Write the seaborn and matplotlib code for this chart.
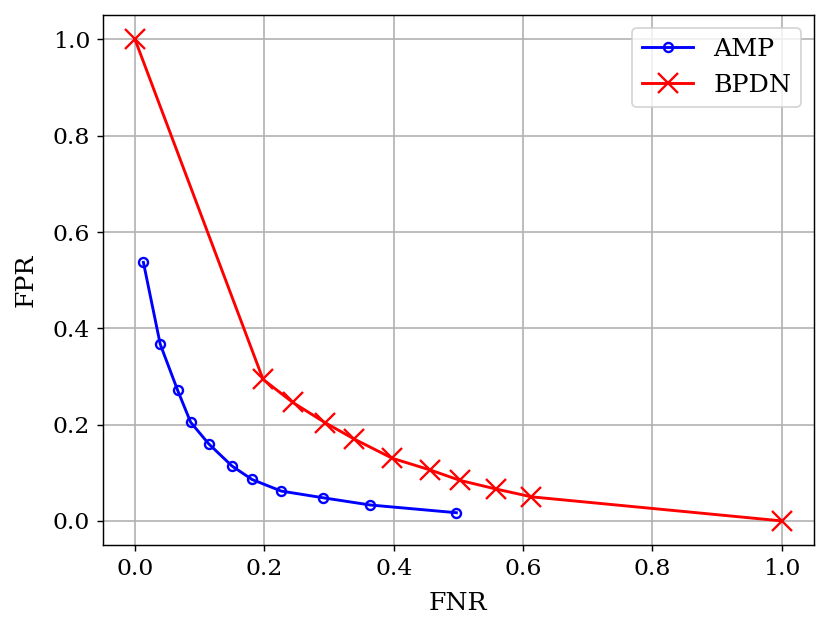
import matplotlib
matplotlib.use("Agg")
import matplotlib.pyplot as plt
import seaborn as sns

# AMP curve (FNR, FPR)
amp_fnr = [0.013, 0.039, 0.066, 0.086, 0.114, 0.150, 0.181, 0.226, 0.291, 0.364, 0.497]
amp_fpr = [0.537, 0.367, 0.271, 0.205, 0.160, 0.114, 0.086, 0.062, 0.048, 0.033, 0.017]

# BPDN curve (FNR, FPR)
bpdn_fnr = [0.0, 0.198, 0.244, 0.294, 0.339, 0.398, 0.456, 0.503, 0.559, 0.613, 1.0]
bpdn_fpr = [1.0, 0.294, 0.246, 0.204, 0.170, 0.130, 0.106, 0.084, 0.066, 0.050, 0.0]

plt.rcParams['font.family'] = ['DejaVu Serif']

fig = plt.figure(figsize=(830 / 130, 632 / 130), dpi=130)
ax = fig.add_axes([0.1237, 0.1377, 0.857, 0.838])

sns.lineplot(x=amp_fnr, y=amp_fpr, ax=ax, sort=False, color='blue', lw=1.6,
             marker='o', markersize=5, markerfacecolor='none',
             markeredgecolor='blue', markeredgewidth=1.3, label='AMP')
sns.lineplot(x=bpdn_fnr, y=bpdn_fpr, ax=ax, sort=False, color='red', lw=1.6,
             marker='x', markersize=11, markeredgecolor='red',
             markeredgewidth=1.3, label='BPDN')

ax.set_xlim(-0.05, 1.05)
ax.set_ylim(-0.05, 1.05)
ax.set_xticks([0.0, 0.2, 0.4, 0.6, 0.8, 1.0])
ax.set_yticks([0.0, 0.2, 0.4, 0.6, 0.8, 1.0])
ax.tick_params(labelsize=13)
ax.grid(True, color='#b0b0b0', lw=0.9)
ax.set_axisbelow(True)
ax.set_xlabel('FNR', fontsize=14, labelpad=7)
ax.set_ylabel('FPR', fontsize=14, labelpad=8)
ax.legend(loc='upper right', fontsize=14)

fig.savefig('out.png', dpi=130)
